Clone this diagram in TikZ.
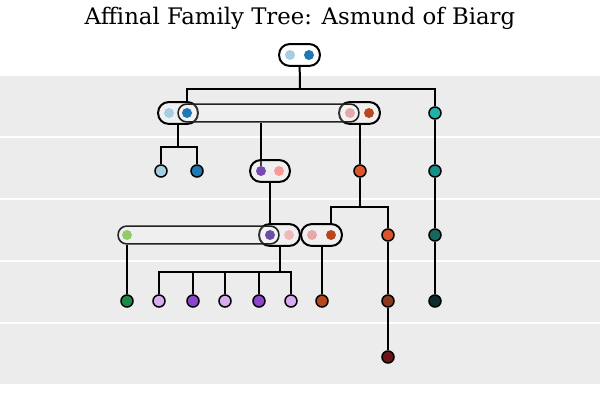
\documentclass[tikz,border=0pt]{standalone}
\usepackage{fontspec}
\setmainfont{DejaVu Serif}
\usepackage{tikz}
\usetikzlibrary{fit}
\usepackage{xcolor}
\definecolor{bandgrey}{HTML}{ECECEC}
\definecolor{unionline}{HTML}{222222}
\definecolor{skyblue}{HTML}{A6CEE3}
\definecolor{deepblue}{HTML}{1F78B4}
\definecolor{rosepink}{HTML}{E6A9A9}
\definecolor{rust}{HTML}{B9461E}
\definecolor{mateviolet}{HTML}{7A4BAE}
\definecolor{salmon}{HTML}{FB9A99}
\definecolor{leafgreen}{HTML}{92CA68}
\definecolor{indigo}{HTML}{6A51A3}
\definecolor{blush}{HTML}{F0B8B8}
\definecolor{ember}{HTML}{E0562B}
\definecolor{ember2}{HTML}{D9552E}
\definecolor{teal1}{HTML}{20B2A6}
\definecolor{teal2}{HTML}{178F88}
\definecolor{teal3}{HTML}{17665F}
\definecolor{teal4}{HTML}{0E2D2B}
\definecolor{forest}{HTML}{1B8A45}
\definecolor{lilac}{HTML}{D8AAF0}
\definecolor{grape}{HTML}{8E44CC}
\definecolor{umber}{HTML}{8B3A1F}
\definecolor{oxblood}{HTML}{6B1518}

\pgfdeclarelayer{bands}
\pgfdeclarelayer{lines}
\pgfdeclarelayer{boxes}
\pgfsetlayers{bands,lines,boxes,main}

\tikzset{
  person/.style={circle, draw=black, line width=0.75pt, minimum size=6pt, inner sep=0pt},
  mate/.style={circle, minimum size=5pt, inner sep=0pt},
  couple/.style={draw=black, line width=1pt, fill=white, fill opacity=0.25, rounded corners=5.25pt, inner sep=2.75pt},
  union/.style={draw=unionline, line width=0.8pt, fill=white, fill opacity=0.2, rounded corners=4.25pt, inner sep=1.75pt},
  link/.style={draw=black, line width=1pt},
}

\begin{document}
\begin{tikzpicture}[x=0.5pt, y=-0.5pt]
\useasboundingbox (0,0) rectangle (600,400);

% generation bands
\begin{pgfonlayer}{bands}
\foreach \top in {76,138,200,262,324}
  \fill[bandgrey] (0,\top) rectangle (600,\top+60);
\end{pgfonlayer}

\node[anchor=base, font=\fontsize{11.4}{13}\selectfont] (title) at (300,24.5)
  {Affinal Family Tree: Asmund of Biarg};

% spouses inside couple boxes
\foreach \name/\x/\y/\col in {
  rootA/290/55/skyblue, rootB/309/55/deepblue,
  cA1/169/113/skyblue, cA2/187/113/deepblue,
  cB1/350/113/rosepink, cB2/369/113/rust,
  cC1/261/171/mateviolet, cC2/279/171/salmon,
  g0/127/235/leafgreen,
  cD1/270/235/indigo, cD2/289/235/blush,
  cE1/312/235/rosepink, cE2/331/235/rust}
  \node[mate, fill=\col] (\name) at (\x,\y) {};

% single persons
\foreach \name/\x/\y/\col in {
  t1/435/113/teal1,
  k1/161/171/skyblue, k2/197/171/deepblue, o1/360/171/ember, t2/435/171/teal2,
  o2/388/235/ember2, t3/435/235/teal3,
  g1/127/301/forest, l1/159/301/lilac, p1/193/301/grape, l2/225/301/lilac,
  p2/259/301/grape, l3/291/301/lilac, d1/322/301/rust, b1/388/301/umber,
  t4/435/301/teal4,
  r1/388/357/oxblood}
  \node[person, fill=\col] (\name) at (\x,\y) {};

% couples and unions
\begin{pgfonlayer}{boxes}
\node[couple, fill opacity=1, fit=(rootA)(rootB)] (root) {};
\node[couple, fit=(cA1)(cA2)] (cA) {};
\node[couple, fit=(cB1)(cB2)] (cB) {};
\node[couple, fit=(cC1)(cC2)] (cC) {};
\node[couple, fit=(cD1)(cD2)] (cD) {};
\node[couple, fit=(cE1)(cE2)] (cE) {};
\node[union, fit=(cA2)(cB1)] (uA) {};
\node[union, fit=(g0)(cD1)] (uB) {};
\end{pgfonlayer}

% descent lines
\begin{pgfonlayer}{lines}
\coordinate (j0) at (300,89);
\coordinate (j1) at (178,147);
\coordinate (j2) at (360,207);
\coordinate (j3) at (279.5,272);
\draw[link] (root) -- (j0);
\draw[link] (cA2 |- cA.north) |- (j0) -| (t1);
\draw[link] (cA) -- (j1);
\draw[link] (k1) |- (j1) -| (k2);
\draw[link] (cC1) -- (cC1 |- uA.south);
\draw[link] (o1) -- (o1 |- cB.south);
\draw[link] (o1) -- (j2);
\draw[link] (cE2 |- cE.north) |- (j2) -| (o2);
\draw[link] (t1) -- (t2) -- (t3) -- (t4);
\draw[link] (cC) -- (cD1 |- cD.north);
\draw[link] (cD) -- (j3);
\draw[link] (l1) |- (j3) -| (l3);
\foreach \kid in {p1,l2,p2}
  \draw[link] (\kid) -- (\kid |- j3);
\draw[link] (g0 |- uB.south) -- (g1);
\draw[link] (d1) -- (d1 |- cE.south);
\draw[link] (o2) -- (b1) -- (r1);
\end{pgfonlayer}
\end{tikzpicture}
\end{document}
